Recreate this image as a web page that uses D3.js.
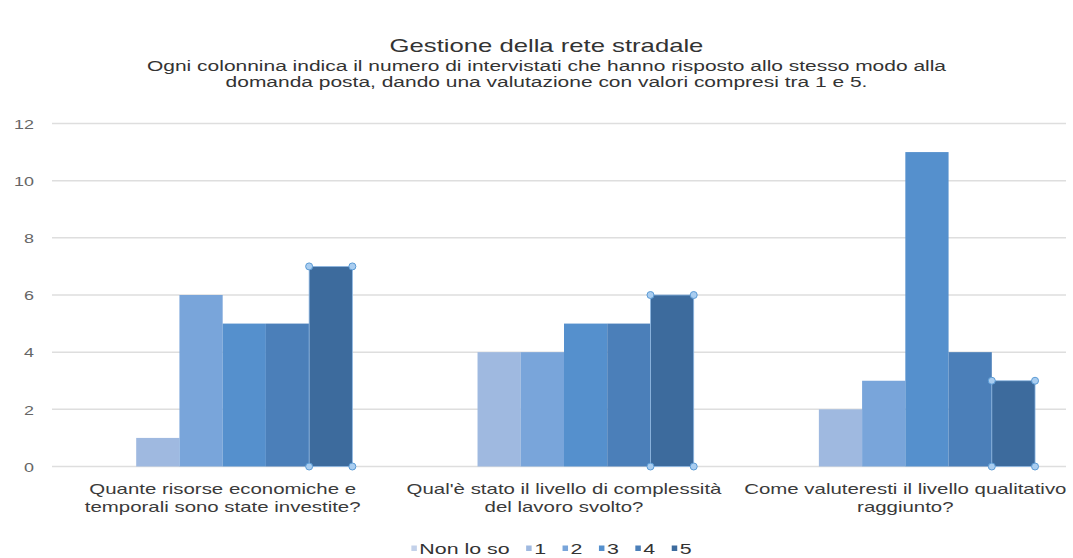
<!DOCTYPE html>
<html>
<head>
<meta charset="utf-8">
<script src="https://cdn.jsdelivr.net/npm/d3@7"></script>
<style>
  html, body { margin: 0; padding: 0; background: #fff; }
  svg { display: block; font-family: "Liberation Sans", Arial, Helvetica, sans-serif; }
</style>
</head>
<body>
<svg id="chart" width="1073" height="558"></svg>
<script>
// Questions (x categories)
const categories = [
  ["Quante risorse economiche e", "temporali sono state investite?"],
  ["Qual'è stato il livello di complessità", "del lavoro svolto?"],
  ["Come valuteresti il livello qualitativo", "raggiunto?"]
];
// Answer series (legend order)
const seriesNames = ["Non lo so", "1", "2", "3", "4", "5"];
// Number of respondents per answer, one value per question
const valNonLoSo = [0, 0, 0];
const val1 = [1, 4, 2];
const val2 = [6, 4, 3];
const val3 = [5, 5, 11];
const val4 = [5, 5, 4];
const val5 = [7, 6, 3];
const yTicks = [0, 2, 4, 6, 8, 10, 12];

const titleText = "Gestione della rete stradale";
const subtitleLines = [
  "Ogni colonnina indica il numero di intervistati che hanno risposto allo stesso modo alla",
  "domanda posta, dando una valutazione con valori compresi tra 1 e 5."
];

const seriesValues = [valNonLoSo, val1, val2, val3, val4, val5];
const colors = ["#c3d1ea", "#9fb9e0", "#79a5da", "#5590cd", "#4b7fb9", "#3d6b9d"];
const selectedSeries = "5";

// Text in this layout is drawn slightly wide; one horizontal factor for all labels
const K = 1.38;

const svg = d3.select("#chart");
const W = 1073;

const margin = { left: 52, right: 1076 };
const yTop = 123.5, yBottom = 466.5;

const catIdx = categories.map((_, i) => i);
const x0 = d3.scaleBand().domain(catIdx).range([margin.left, margin.right])
  .paddingInner(0.24).paddingOuter(0.12);
const x1 = d3.scaleBand().domain(seriesNames).range([0, x0.bandwidth()]).padding(0);
const y = d3.scaleLinear().domain([0, 12]).range([yBottom, yTop]);

function wideText(parent, x, yy, str, opts) {
  const g = parent.append("g").attr("transform", `translate(${x},${yy}) scale(${K},1)`);
  return g.append("text")
    .attr("text-anchor", opts.anchor || "middle")
    .attr("font-size", opts.size)
    .attr("fill", opts.fill || "#333")
    .text(str);
}

// Title and subtitle
const headCx = W / 2 + 10;
wideText(svg, headCx, 52, titleText, { size: 18.6, fill: "#333" });
subtitleLines.forEach((s, i) => wideText(svg, headCx, 71 + i * 16, s, { size: 15.2, fill: "#333" }));

// Horizontal gridlines
const gridRight = 1066;
svg.append("g").selectAll("line").data(yTicks).join("line")
  .attr("x1", margin.left).attr("x2", gridRight)
  .attr("y1", d => y(d)).attr("y2", d => y(d))
  .attr("stroke", "#dedede").attr("stroke-width", 1.5);

// Y axis labels
const yAxis = d3.axisLeft(y).tickValues(yTicks).tickSize(0).tickPadding(0);
const yg = svg.append("g").attr("transform", "translate(34,0)").call(yAxis);
yg.select(".domain").remove();
yg.selectAll(".tick text").each(function (d) {
  const t = d3.select(this);
  t.attr("font-size", 13).attr("fill", "#666").attr("font-family", null)
   .attr("dy", "0.36em").attr("transform", `scale(${K},1)`).attr("x", 0);
});

// Bars
const rows = [];
seriesNames.forEach((s, si) => {
  catIdx.forEach(ci => rows.push({ s, si, ci, v: seriesValues[si][ci] }));
});
const barG = svg.append("g");
barG.selectAll("rect").data(rows.filter(r => r.v > 0)).join("rect")
  .attr("x", d => x0(d.ci) + x1(d.s))
  .attr("y", d => y(d.v))
  .attr("width", x1.bandwidth())
  .attr("height", d => y(0) - y(d.v))
  .attr("fill", d => colors[d.si])
  .attr("stroke", d => d.s === selectedSeries ? "#8fb8e3" : "none")
  .attr("stroke-width", 0.8);

// Selection handles on the highlighted series
const handles = [];
rows.filter(r => r.s === selectedSeries).forEach(r => {
  const xl = x0(r.ci) + x1(r.s), xr = xl + x1.bandwidth();
  [[xl, y(r.v)], [xr, y(r.v)], [xl, y(0)], [xr, y(0)]].forEach(p => handles.push(p));
});
svg.append("g").selectAll("circle").data(handles).join("circle")
  .attr("cx", d => d[0]).attr("cy", d => d[1]).attr("r", 3.5)
  .attr("fill", "#a9cdf0").attr("stroke", "#5b9bd5").attr("stroke-width", 1);

// Category labels
catIdx.forEach(ci => {
  const cx = x0(ci) + x0.bandwidth() / 2;
  categories[ci].forEach((line, li) =>
    wideText(svg, cx, 494 + li * 18, line, { size: 14.8, fill: "#3a3a3a" }));
});

// Legend
const legG = svg.append("g");
let lx = 0;
const swatch = 5.5, swGap = 2.5, itemGap = 16.5;
seriesNames.forEach((s, i) => {
  const g = legG.append("g").attr("transform", `translate(${lx},0)`);
  g.append("rect").attr("x", 0).attr("y", -8.5).attr("width", swatch).attr("height", swatch).attr("fill", colors[i]);
  const tg = g.append("g").attr("transform", `translate(${swatch + swGap},0) scale(${K},1)`);
  const t = tg.append("text").attr("font-size", 15.5).attr("fill", "#333").text(s);
  const w = t.node().getComputedTextLength() * K;
  lx += swatch + swGap + w + itemGap;
});
const legW = lx - itemGap;
legG.attr("transform", `translate(${(W - legW) / 2 + 15},554)`);
</script>
</body>
</html>
